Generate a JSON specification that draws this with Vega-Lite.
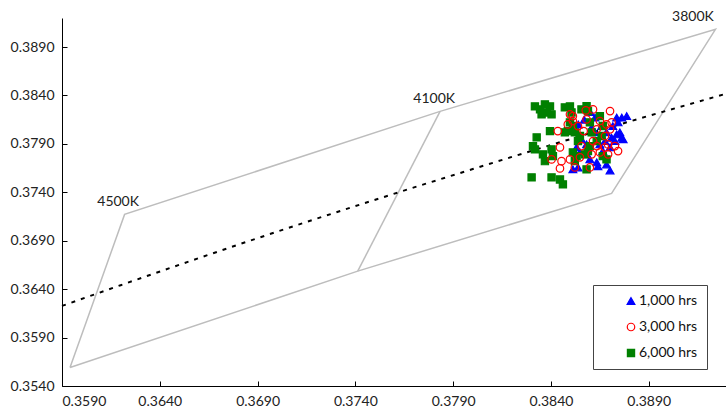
{
  "$schema": "https://vega.github.io/schema/vega-lite/v6.json",
  "width": 665,
  "height": 368,
  "autosize": {"type": "none"},
  "padding": {"left": 62, "top": 18, "right": 0, "bottom": 26},
  "background": "white",
  "config": {
    "view": {"stroke": null},
    "font": "Lato",
    "axis": {
      "grid": false,
      "title": null,
      "domainColor": "#000000",
      "domainWidth": 1,
      "tickColor": "#000000",
      "tickSize": -5,
      "labelPadding": 13,
      "labelFont": "Lato",
      "labelFontSize": 14,
      "labelColor": "#222222",
      "format": ".4f"
    },
    "legend": {
      "title": null, "orient": "none", "legendX": 531, "legendY": 267, "padding": 9,
      "fillColor": "white", "strokeColor": "#444444", "labelFont": "Lato", "labelFontSize": 14,
      "labelColor": "#111111", "symbolOffset": 22, "labelOffset": 1, "rowPadding": 12,
      "symbolStrokeWidth": 1.2
    }
  },
  "datasets": {
    "quad": [
      {"seg": "outer", "ord": 1, "x": 0.35941, "y": 0.35591},
      {"seg": "outer", "ord": 2, "x": 0.36220, "y": 0.37172},
      {"seg": "outer", "ord": 3, "x": 0.37833, "y": 0.38236},
      {"seg": "outer", "ord": 4, "x": 0.39241, "y": 0.39083},
      {"seg": "outer", "ord": 5, "x": 0.38710, "y": 0.37389},
      {"seg": "outer", "ord": 6, "x": 0.37412, "y": 0.36586},
      {"seg": "outer", "ord": 7, "x": 0.35941, "y": 0.35591},
      {"seg": "mid", "ord": 1, "x": 0.37412, "y": 0.36586},
      {"seg": "mid", "ord": 2, "x": 0.37833, "y": 0.38236}
    ],
    "locus": [
      {"x": 0.359, "y": 0.36227},
      {"x": 0.362, "y": 0.36441},
      {"x": 0.365, "y": 0.36652},
      {"x": 0.368, "y": 0.36859},
      {"x": 0.371, "y": 0.37061},
      {"x": 0.374, "y": 0.37258},
      {"x": 0.377, "y": 0.37451},
      {"x": 0.380, "y": 0.37640},
      {"x": 0.383, "y": 0.37828},
      {"x": 0.386, "y": 0.38011},
      {"x": 0.389, "y": 0.38190},
      {"x": 0.393, "y": 0.38421}
    ],
    "labels": [
      {"label": "4500K", "x": 0.36187, "y": 0.37296},
      {"label": "4100K", "x": 0.37803, "y": 0.38360},
      {"label": "3800K", "x": 0.39126, "y": 0.39212}
    ],
    "pts": [
      {"series": "1,000 hrs", "x": 0.38762, "y": 0.38171},
      {"series": "1,000 hrs", "x": 0.38787, "y": 0.38187},
      {"series": "1,000 hrs", "x": 0.38736, "y": 0.38171},
      {"series": "1,000 hrs", "x": 0.38743, "y": 0.38122},
      {"series": "1,000 hrs", "x": 0.38625, "y": 0.38171},
      {"series": "1,000 hrs", "x": 0.38556, "y": 0.37947},
      {"series": "1,000 hrs", "x": 0.38531, "y": 0.37864},
      {"series": "1,000 hrs", "x": 0.38512, "y": 0.37637},
      {"series": "1,000 hrs", "x": 0.38538, "y": 0.37657},
      {"series": "1,000 hrs", "x": 0.38634, "y": 0.37709},
      {"series": "1,000 hrs", "x": 0.38684, "y": 0.37688},
      {"series": "1,000 hrs", "x": 0.38736, "y": 0.37998},
      {"series": "1,000 hrs", "x": 0.38762, "y": 0.37964},
      {"series": "1,000 hrs", "x": 0.38769, "y": 0.37947},
      {"series": "1,000 hrs", "x": 0.38710, "y": 0.37964},
      {"series": "1,000 hrs", "x": 0.38727, "y": 0.37929},
      {"series": "1,000 hrs", "x": 0.38676, "y": 0.37929},
      {"series": "1,000 hrs", "x": 0.38582, "y": 0.37895},
      {"series": "1,000 hrs", "x": 0.38650, "y": 0.37895},
      {"series": "1,000 hrs", "x": 0.38599, "y": 0.37740},
      {"series": "1,000 hrs", "x": 0.38582, "y": 0.37792},
      {"series": "1,000 hrs", "x": 0.38548, "y": 0.37812},
      {"series": "1,000 hrs", "x": 0.38684, "y": 0.38019},
      {"series": "1,000 hrs", "x": 0.38625, "y": 0.38019},
      {"series": "1,000 hrs", "x": 0.38608, "y": 0.38070},
      {"series": "1,000 hrs", "x": 0.38659, "y": 0.38084},
      {"series": "1,000 hrs", "x": 0.38716, "y": 0.38084},
      {"series": "1,000 hrs", "x": 0.38752, "y": 0.38019},
      {"series": "1,000 hrs", "x": 0.38702, "y": 0.37864},
      {"series": "1,000 hrs", "x": 0.38665, "y": 0.37826},
      {"series": "1,000 hrs", "x": 0.38702, "y": 0.37626},
      {"series": "1,000 hrs", "x": 0.38640, "y": 0.37668},
      {"series": "1,000 hrs", "x": 0.38570, "y": 0.38150},
      {"series": "1,000 hrs", "x": 0.38600, "y": 0.38230},
      {"series": "1,000 hrs", "x": 0.38540, "y": 0.38100},
      {"series": "6,000 hrs", "x": 0.38318, "y": 0.38287},
      {"series": "6,000 hrs", "x": 0.38344, "y": 0.38256},
      {"series": "6,000 hrs", "x": 0.38369, "y": 0.38308},
      {"series": "6,000 hrs", "x": 0.38395, "y": 0.38287},
      {"series": "6,000 hrs", "x": 0.38352, "y": 0.38205},
      {"series": "6,000 hrs", "x": 0.38378, "y": 0.38225},
      {"series": "6,000 hrs", "x": 0.38403, "y": 0.38205},
      {"series": "6,000 hrs", "x": 0.38471, "y": 0.38277},
      {"series": "6,000 hrs", "x": 0.38497, "y": 0.38287},
      {"series": "6,000 hrs", "x": 0.38505, "y": 0.38225},
      {"series": "6,000 hrs", "x": 0.38556, "y": 0.38256},
      {"series": "6,000 hrs", "x": 0.38582, "y": 0.38290},
      {"series": "6,000 hrs", "x": 0.38589, "y": 0.38239},
      {"series": "6,000 hrs", "x": 0.38395, "y": 0.38032},
      {"series": "6,000 hrs", "x": 0.38327, "y": 0.37967},
      {"series": "6,000 hrs", "x": 0.38497, "y": 0.38122},
      {"series": "6,000 hrs", "x": 0.38512, "y": 0.38084},
      {"series": "6,000 hrs", "x": 0.38522, "y": 0.38019},
      {"series": "6,000 hrs", "x": 0.38486, "y": 0.38032},
      {"series": "6,000 hrs", "x": 0.38599, "y": 0.38122},
      {"series": "6,000 hrs", "x": 0.38650, "y": 0.38187},
      {"series": "6,000 hrs", "x": 0.38665, "y": 0.38084},
      {"series": "6,000 hrs", "x": 0.38308, "y": 0.37877},
      {"series": "6,000 hrs", "x": 0.38318, "y": 0.37843},
      {"series": "6,000 hrs", "x": 0.38359, "y": 0.37792},
      {"series": "6,000 hrs", "x": 0.38369, "y": 0.37722},
      {"series": "6,000 hrs", "x": 0.38403, "y": 0.37843},
      {"series": "6,000 hrs", "x": 0.38410, "y": 0.37774},
      {"series": "6,000 hrs", "x": 0.38512, "y": 0.37812},
      {"series": "6,000 hrs", "x": 0.38531, "y": 0.37774},
      {"series": "6,000 hrs", "x": 0.38574, "y": 0.37792},
      {"series": "6,000 hrs", "x": 0.38589, "y": 0.37826},
      {"series": "6,000 hrs", "x": 0.38599, "y": 0.37877},
      {"series": "6,000 hrs", "x": 0.38634, "y": 0.37929},
      {"series": "6,000 hrs", "x": 0.38659, "y": 0.37981},
      {"series": "6,000 hrs", "x": 0.38665, "y": 0.37774},
      {"series": "6,000 hrs", "x": 0.38684, "y": 0.37740},
      {"series": "6,000 hrs", "x": 0.38582, "y": 0.37637},
      {"series": "6,000 hrs", "x": 0.38522, "y": 0.37722},
      {"series": "6,000 hrs", "x": 0.38301, "y": 0.37554},
      {"series": "6,000 hrs", "x": 0.38403, "y": 0.37554},
      {"series": "6,000 hrs", "x": 0.38446, "y": 0.37533},
      {"series": "6,000 hrs", "x": 0.38461, "y": 0.37482},
      {"series": "6,000 hrs", "x": 0.38538, "y": 0.37929},
      {"series": "6,000 hrs", "x": 0.38548, "y": 0.37981},
      {"series": "6,000 hrs", "x": 0.38608, "y": 0.38019},
      {"series": "6,000 hrs", "x": 0.38471, "y": 0.38019},
      {"series": "3,000 hrs", "x": 0.38615, "y": 0.38256},
      {"series": "3,000 hrs", "x": 0.38702, "y": 0.38239},
      {"series": "3,000 hrs", "x": 0.38512, "y": 0.38187},
      {"series": "3,000 hrs", "x": 0.38435, "y": 0.38032},
      {"series": "3,000 hrs", "x": 0.38446, "y": 0.37864},
      {"series": "3,000 hrs", "x": 0.38403, "y": 0.37740},
      {"series": "3,000 hrs", "x": 0.38454, "y": 0.37722},
      {"series": "3,000 hrs", "x": 0.38446, "y": 0.37647},
      {"series": "3,000 hrs", "x": 0.38497, "y": 0.37740},
      {"series": "3,000 hrs", "x": 0.38522, "y": 0.37657},
      {"series": "3,000 hrs", "x": 0.38599, "y": 0.37657},
      {"series": "3,000 hrs", "x": 0.38548, "y": 0.37761},
      {"series": "3,000 hrs", "x": 0.38634, "y": 0.37877},
      {"series": "3,000 hrs", "x": 0.38676, "y": 0.37864},
      {"series": "3,000 hrs", "x": 0.38692, "y": 0.37895},
      {"series": "3,000 hrs", "x": 0.38727, "y": 0.37877},
      {"series": "3,000 hrs", "x": 0.38743, "y": 0.37826},
      {"series": "3,000 hrs", "x": 0.38702, "y": 0.38050},
      {"series": "3,000 hrs", "x": 0.38710, "y": 0.38122},
      {"series": "3,000 hrs", "x": 0.38567, "y": 0.38032},
      {"series": "3,000 hrs", "x": 0.38538, "y": 0.38084},
      {"series": "3,000 hrs", "x": 0.38650, "y": 0.38136},
      {"series": "3,000 hrs", "x": 0.38634, "y": 0.38050},
      {"series": "3,000 hrs", "x": 0.38676, "y": 0.37981},
      {"series": "3,000 hrs", "x": 0.38615, "y": 0.37929},
      {"series": "3,000 hrs", "x": 0.38512, "y": 0.38136},
      {"series": "3,000 hrs", "x": 0.38486, "y": 0.38101},
      {"series": "3,000 hrs", "x": 0.38582, "y": 0.38153},
      {"series": "3,000 hrs", "x": 0.38684, "y": 0.38101},
      {"series": "3,000 hrs", "x": 0.38556, "y": 0.37877},
      {"series": "3,000 hrs", "x": 0.38608, "y": 0.37792},
      {"series": "3,000 hrs", "x": 0.38650, "y": 0.37812},
      {"series": "3,000 hrs", "x": 0.38692, "y": 0.37792},
      {"series": "3,000 hrs", "x": 0.38578, "y": 0.38246},
      {"series": "3,000 hrs", "x": 0.38497, "y": 0.38205}
    ]
  },
  "layer": [
    {
      "data": {"name": "quad"},
      "mark": {"type": "line", "color": "#bdbdbd", "strokeWidth": 1.5},
      "encoding": {
        "x": {"field": "x", "type": "quantitative", "scale": {"domain": [0.359, 0.393], "zero": false, "nice": false}, "axis": {"values": [0.359, 0.364, 0.369, 0.374, 0.379, 0.384, 0.389]}},
        "y": {"field": "y", "type": "quantitative", "scale": {"domain": [0.354, 0.392], "zero": false, "nice": false}, "axis": {"values": [0.354, 0.359, 0.364, 0.369, 0.374, 0.379, 0.384, 0.389]}},
        "detail": {"field": "seg"},
        "order": {"field": "ord", "type": "quantitative"}
      }
    },
    {
      "data": {"name": "locus"},
      "mark": {"type": "line", "color": "#000000", "strokeWidth": 2, "strokeDash": [4, 6]},
      "encoding": {
        "x": {"field": "x", "type": "quantitative", "scale": {"domain": [0.359, 0.393], "zero": false, "nice": false}},
        "y": {"field": "y", "type": "quantitative", "scale": {"domain": [0.354, 0.392], "zero": false, "nice": false}}
      }
    },
    {
      "data": {"name": "labels"},
      "mark": {"type": "text", "font": "Lato", "fontSize": 14, "color": "#222222", "align": "center", "baseline": "middle"},
      "encoding": {
        "x": {"field": "x", "type": "quantitative", "scale": {"domain": [0.359, 0.393], "zero": false, "nice": false}},
        "y": {"field": "y", "type": "quantitative", "scale": {"domain": [0.354, 0.392], "zero": false, "nice": false}},
        "text": {"field": "label"}
      }
    },
    {
      "data": {"name": "pts"},
      "mark": {"type": "point", "opacity": 1, "strokeWidth": 1.2},
      "encoding": {
        "x": {"field": "x", "type": "quantitative", "scale": {"domain": [0.359, 0.393], "zero": false, "nice": false}},
        "y": {"field": "y", "type": "quantitative", "scale": {"domain": [0.354, 0.392], "zero": false, "nice": false}},
        "shape": {"field": "series", "type": "nominal", "scale": {"domain": ["1,000 hrs", "3,000 hrs", "6,000 hrs"], "range": ["triangle-up", "circle", "square"]},
          "legend": {"labelExpr": "datum.label + '\u00a0\u00a0\u00a0\u00a0\u00a0'"}},
        "fill": {"field": "series", "type": "nominal", "scale": {"domain": ["1,000 hrs", "3,000 hrs", "6,000 hrs"], "range": ["#0000ff", "transparent", "#008000"]},
          "legend": {"labelExpr": "datum.label + '\u00a0\u00a0\u00a0\u00a0\u00a0'"}},
        "stroke": {"field": "series", "type": "nominal", "scale": {"domain": ["1,000 hrs", "3,000 hrs", "6,000 hrs"], "range": ["#0000ff", "#ff0000", "#008000"]},
          "legend": {"labelExpr": "datum.label + '\u00a0\u00a0\u00a0\u00a0\u00a0'"}},
        "size": {"field": "series", "type": "nominal", "scale": {"domain": ["1,000 hrs", "3,000 hrs", "6,000 hrs"], "range": [60, 52, 36]},
          "legend": {"labelExpr": "datum.label + '\u00a0\u00a0\u00a0\u00a0\u00a0'"}}
      }
    }
  ]
}
